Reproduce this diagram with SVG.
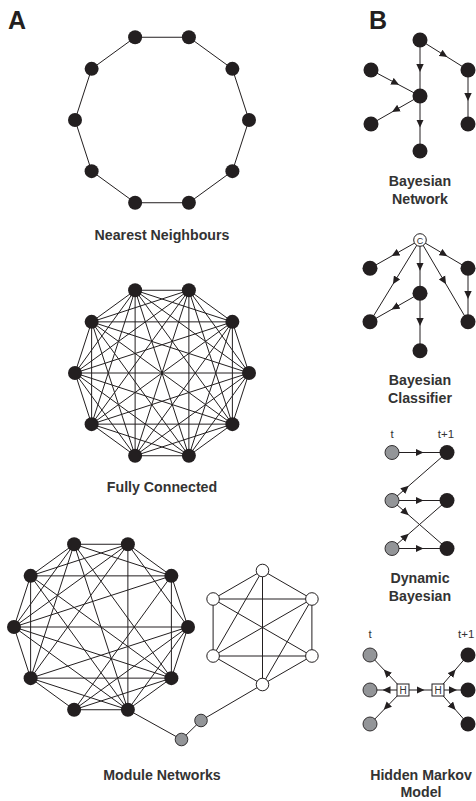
<svg xmlns="http://www.w3.org/2000/svg" width="476" height="801" viewBox="0 0 476 801">
<style>
.e{stroke:#231f20;stroke-width:1;fill:none}
.ar{stroke:#231f20;stroke-width:1;fill:none;marker-mid:url(#arr)}
.n{fill:#231f20}
.g{fill:#939598;stroke:#231f20;stroke-width:0.9}
.w{fill:#fff;stroke:#231f20;stroke-width:1}
.lbl{font-family:"Liberation Sans",Arial,sans-serif;font-weight:bold;font-size:14.2px;fill:#333;text-anchor:middle}
.pl{font-family:"Liberation Sans",Arial,sans-serif;font-weight:bold;font-size:25px;fill:#231f20}
.t{font-family:"Liberation Sans",Arial,sans-serif;font-size:11.5px;fill:#333}
.bx{font-family:"Liberation Sans",Arial,sans-serif;font-size:10px;fill:#333;text-anchor:middle}
</style>
<defs>
<marker id="arr" viewBox="0 0 8 8" markerWidth="8" markerHeight="8" refX="4" refY="4" orient="auto" markerUnits="userSpaceOnUse"><path d="M0,0.3 L8,4 L0,7.7 z" fill="#231f20"/></marker>
</defs>

<text class="pl" x="8" y="29">A</text>
<text class="pl" x="369" y="29">B</text>

<g id="connectors">
  <g id="conn-nearest">
    <polygon class="e" points="249,120 232.38,68.86 188.88,37.26 135.12,37.26 91.62,68.86 75,120 91.62,171.14 135.12,202.74 188.88,202.74 232.38,171.14"/>
  </g>
  <g id="conn-full">
    <path class="e" d="M249 373L232.38 321.86M249 373L188.88 290.26M249 373L135.12 290.26M249 373L91.62 321.86M249 373L75 373M249 373L91.62 424.14M249 373L135.12 455.74M249 373L188.88 455.74M249 373L232.38 424.14
M232.38 321.86L188.88 290.26M232.38 321.86L135.12 290.26M232.38 321.86L91.62 321.86M232.38 321.86L75 373M232.38 321.86L91.62 424.14M232.38 321.86L135.12 455.74M232.38 321.86L188.88 455.74M232.38 321.86L232.38 424.14
M188.88 290.26L135.12 290.26M188.88 290.26L91.62 321.86M188.88 290.26L75 373M188.88 290.26L91.62 424.14M188.88 290.26L135.12 455.74M188.88 290.26L188.88 455.74M188.88 290.26L232.38 424.14
M135.12 290.26L91.62 321.86M135.12 290.26L75 373M135.12 290.26L91.62 424.14M135.12 290.26L135.12 455.74M135.12 290.26L188.88 455.74M135.12 290.26L232.38 424.14
M91.62 321.86L75 373M91.62 321.86L91.62 424.14M91.62 321.86L135.12 455.74M91.62 321.86L188.88 455.74M91.62 321.86L232.38 424.14
M75 373L91.62 424.14M75 373L135.12 455.74M75 373L188.88 455.74M75 373L232.38 424.14
M91.62 424.14L135.12 455.74M91.62 424.14L188.88 455.74M91.62 424.14L232.38 424.14
M135.12 455.74L188.88 455.74M135.12 455.74L232.38 424.14
M188.88 455.74L232.38 424.14"/>
  </g>
  <g id="conn-module">
    <polygon class="e" points="188,627 171.38,575.86 127.88,544.26 74.12,544.26 30.62,575.86 14,627 30.62,678.14 74.12,709.74 127.88,709.74 171.38,678.14"/>
    <path class="e" d="M127.88 544.26L127.88 709.74M171.38 575.86L171.38 678.14M30.62 575.86L30.62 678.14M30.62 575.86L171.38 575.86M14 627L188 627M30.62 678.14L171.38 678.14
M74.12 544.26L171.38 575.86M30.62 575.86L127.88 544.26M74.12 544.26L14 627M74.12 544.26L30.62 678.14M74.12 544.26L127.88 709.74M74.12 544.26L171.38 678.14
M127.88 544.26L14 627M127.88 544.26L30.62 678.14M127.88 544.26L188 627
M30.62 575.86L127.88 709.74M30.62 575.86L171.38 678.14
M14 627L171.38 575.86M14 627L171.38 678.14M14 627L127.88 709.74
M30.62 678.14L188 627M30.62 678.14L127.88 709.74
M74.12 709.74L171.38 575.86M74.12 709.74L188 627M74.12 709.74L171.38 678.14
M127.88 709.74L188 627"/>
    <polygon class="e" points="262.5,570.5 311.9,599 311.9,656 262.5,684.5 213.1,656 213.1,599"/>
    <path class="e" d="M213.1 599L311.9 599M213.1 656L311.9 656M262.5 570.5L262.5 684.5M262.5 570.5L213.1 656M311.9 599L262.5 684.5M213.1 599L311.9 656M311.9 599L213.1 656"/>
    <polyline class="e" points="127.88,709.74 181.5,739.5 201,720.5 262.5,684.5"/>
  </g>
  <g id="conn-bn">
    <path class="ar" d="M420 40L420 68L420 96"/>
    <path class="ar" d="M420 40L444 55L468 70"/>
    <path class="ar" d="M371 70L395.5 83L420 96"/>
    <path class="ar" d="M420 96L395.5 110L371 124"/>
    <path class="ar" d="M420 96L420 123.5L420 151"/>
    <path class="ar" d="M468 70L468 97L468 124"/>
  </g>
  <g id="conn-bc">
    <path class="ar" d="M420 240L395 254.15L370 268.3"/>
    <path class="ar" d="M420 240L395 280.85L370 321.7"/>
    <path class="ar" d="M420 240L420 266.65L420 293.3"/>
    <path class="ar" d="M420 240L444 280.85L468 321.7"/>
    <path class="ar" d="M420 240L444 254.15L468 268.3"/>
    <path class="ar" d="M420 293.3L395 307.5L370 321.7"/>
    <path class="ar" d="M420 293.3L420 322L420 350.7"/>
    <path class="ar" d="M468 268.3L468 295L468 321.7"/>
  </g>
  <g id="conn-dbn">
    <path class="ar" d="M392 452.5L419.5 452.5L447 452.5"/>
    <path class="ar" d="M392 500.5L405.75 488.5L447 452.5"/>
    <path class="ar" d="M392 500.5L419.5 500.5L447 500.5"/>
    <path class="ar" d="M392 500.5L405.75 512.5L447 548.5"/>
    <path class="ar" d="M392 548.5L405.75 536.5L447 500.5"/>
    <path class="ar" d="M392 548.5L419.5 548.5L447 548.5"/>
  </g>
  <g id="conn-hmm">
    <path class="ar" d="M403 690L386.5 672.5L370 655"/>
    <path class="ar" d="M403 690L386.5 690L370 690"/>
    <path class="ar" d="M403 690L386.5 707L370 724"/>
    <path class="ar" d="M403 690L420.5 690L438 690"/>
    <path class="ar" d="M438 690L453 672.5L468 655"/>
    <path class="ar" d="M438 690L453 690L468 690"/>
    <path class="ar" d="M438 690L453 707L468 724"/>
  </g>
</g>

<!-- Nearest neighbours nodes -->
<g id="nn0"><circle class="n" cx="249" cy="120" r="7"/></g>
<g id="nn1"><circle class="n" cx="232.38" cy="68.86" r="7"/></g>
<g id="nn2"><circle class="n" cx="188.88" cy="37.26" r="7"/></g>
<g id="nn3"><circle class="n" cx="135.12" cy="37.26" r="7"/></g>
<g id="nn4"><circle class="n" cx="91.62" cy="68.86" r="7"/></g>
<g id="nn5"><circle class="n" cx="75" cy="120" r="7"/></g>
<g id="nn6"><circle class="n" cx="91.62" cy="171.14" r="7"/></g>
<g id="nn7"><circle class="n" cx="135.12" cy="202.74" r="7"/></g>
<g id="nn8"><circle class="n" cx="188.88" cy="202.74" r="7"/></g>
<g id="nn9"><circle class="n" cx="232.38" cy="171.14" r="7"/></g>
<text class="lbl" x="162" y="240">Nearest Neighbours</text>

<!-- Fully connected nodes -->
<g id="fc0"><circle class="n" cx="249" cy="373" r="7"/></g>
<g id="fc1"><circle class="n" cx="232.38" cy="321.86" r="7"/></g>
<g id="fc2"><circle class="n" cx="188.88" cy="290.26" r="7"/></g>
<g id="fc3"><circle class="n" cx="135.12" cy="290.26" r="7"/></g>
<g id="fc4"><circle class="n" cx="91.62" cy="321.86" r="7"/></g>
<g id="fc5"><circle class="n" cx="75" cy="373" r="7"/></g>
<g id="fc6"><circle class="n" cx="91.62" cy="424.14" r="7"/></g>
<g id="fc7"><circle class="n" cx="135.12" cy="455.74" r="7"/></g>
<g id="fc8"><circle class="n" cx="188.88" cy="455.74" r="7"/></g>
<g id="fc9"><circle class="n" cx="232.38" cy="424.14" r="7"/></g>
<text class="lbl" x="162" y="492">Fully Connected</text>

<!-- Module networks nodes -->
<g id="mb0"><circle class="n" cx="188" cy="627" r="7"/></g>
<g id="mb1"><circle class="n" cx="171.38" cy="575.86" r="7"/></g>
<g id="mb2"><circle class="n" cx="127.88" cy="544.26" r="7"/></g>
<g id="mb3"><circle class="n" cx="74.12" cy="544.26" r="7"/></g>
<g id="mb4"><circle class="n" cx="30.62" cy="575.86" r="7"/></g>
<g id="mb5"><circle class="n" cx="14" cy="627" r="7"/></g>
<g id="mb6"><circle class="n" cx="30.62" cy="678.14" r="7"/></g>
<g id="mb7"><circle class="n" cx="74.12" cy="709.74" r="7"/></g>
<g id="mb8"><circle class="n" cx="127.88" cy="709.74" r="7"/></g>
<g id="mb9"><circle class="n" cx="171.38" cy="678.14" r="7"/></g>
<g id="mw0"><circle class="w" cx="262.5" cy="570.5" r="6.3"/></g>
<g id="mw1"><circle class="w" cx="311.9" cy="599" r="6.3"/></g>
<g id="mw2"><circle class="w" cx="311.9" cy="656" r="6.3"/></g>
<g id="mw3"><circle class="w" cx="262.5" cy="684.5" r="6.3"/></g>
<g id="mw4"><circle class="w" cx="213.1" cy="656" r="6.3"/></g>
<g id="mw5"><circle class="w" cx="213.1" cy="599" r="6.3"/></g>
<g id="mg0"><circle class="g" cx="181.5" cy="739.5" r="6.3"/></g>
<g id="mg1"><circle class="g" cx="201" cy="720.5" r="6.3"/></g>
<text class="lbl" x="162" y="780">Module Networks</text>

<!-- Bayesian network -->
<g id="bn-top"><circle class="n" cx="420" cy="40" r="7.5"/></g>
<g id="bn-right"><circle class="n" cx="468" cy="70" r="7.5"/></g>
<g id="bn-left"><circle class="n" cx="371" cy="70" r="7.5"/></g>
<g id="bn-mid"><circle class="n" cx="420" cy="96" r="7.5"/></g>
<g id="bn-lowleft"><circle class="n" cx="371" cy="124" r="7.5"/></g>
<g id="bn-lowright"><circle class="n" cx="468" cy="124" r="7.5"/></g>
<g id="bn-bottom"><circle class="n" cx="420" cy="151" r="7.5"/></g>
<text class="lbl" x="420" y="186">Bayesian</text>
<text class="lbl" x="420" y="204">Network</text>

<!-- Bayesian classifier -->
<g id="bc-c"><circle class="w" cx="420" cy="240" r="6.3"/><text class="bx" x="420" y="243.5" style="font-size:9px">C</text></g>
<g id="bc-ul"><circle class="n" cx="370" cy="268.3" r="7.5"/></g>
<g id="bc-ur"><circle class="n" cx="468" cy="268.3" r="7.5"/></g>
<g id="bc-mid"><circle class="n" cx="420" cy="293.3" r="7.5"/></g>
<g id="bc-ll"><circle class="n" cx="370" cy="321.7" r="7.5"/></g>
<g id="bc-lr"><circle class="n" cx="468" cy="321.7" r="7.5"/></g>
<g id="bc-bottom"><circle class="n" cx="420" cy="350.7" r="7.5"/></g>
<text class="lbl" x="420" y="385">Bayesian</text>
<text class="lbl" x="420" y="403">Classifier</text>

<!-- Dynamic Bayesian -->
<text class="t" x="392" y="438" text-anchor="middle">t</text>
<text class="t" x="446" y="438" text-anchor="middle">t+1</text>
<g id="dbn-g0"><circle class="g" cx="392" cy="452.5" r="7"/></g>
<g id="dbn-g1"><circle class="g" cx="392" cy="500.5" r="7"/></g>
<g id="dbn-g2"><circle class="g" cx="392" cy="548.5" r="7"/></g>
<g id="dbn-b0"><circle class="n" cx="447" cy="452.5" r="7.5"/></g>
<g id="dbn-b1"><circle class="n" cx="447" cy="500.5" r="7.5"/></g>
<g id="dbn-b2"><circle class="n" cx="447" cy="548.5" r="7.5"/></g>
<text class="lbl" x="420" y="583">Dynamic</text>
<text class="lbl" x="420" y="601">Bayesian</text>

<!-- Hidden Markov -->
<text class="t" x="370" y="638" text-anchor="middle">t</text>
<text class="t" x="458" y="638">t+1</text>
<g id="hmm-g0"><circle class="g" cx="370" cy="655" r="7"/></g>
<g id="hmm-g1"><circle class="g" cx="370" cy="690" r="7"/></g>
<g id="hmm-g2"><circle class="g" cx="370" cy="724" r="7"/></g>
<g id="hmm-h0"><rect class="w" x="397" y="684" width="12" height="12"/><text class="bx" x="403" y="693.6">H</text></g>
<g id="hmm-h1"><rect class="w" x="432" y="684" width="12" height="12"/><text class="bx" x="438" y="693.6">H</text></g>
<g id="hmm-b0"><circle class="n" cx="468" cy="655" r="7.5"/></g>
<g id="hmm-b1"><circle class="n" cx="468" cy="690" r="7.5"/></g>
<g id="hmm-b2"><circle class="n" cx="468" cy="724" r="7.5"/></g>
<text class="lbl" x="421" y="780">Hidden Markov</text>
<text class="lbl" x="421" y="797">Model</text>
</svg>
